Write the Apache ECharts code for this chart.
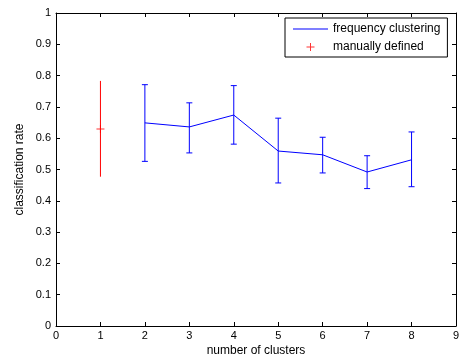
<!DOCTYPE html>
<html>
<head>
<meta charset="utf-8">
<script src="https://cdn.jsdelivr.net/npm/echarts@6/dist/echarts.min.js"></script>
<style>
  html, body { margin: 0; padding: 0; background: #fff; }
  #chart { width: 459px; height: 356px; }
</style>
</head>
<body>
<div id="chart"></div>
<script>
// frequency clustering: mean and error range per number of clusters
const freqX = [2, 3, 4, 5, 6, 7, 8];
const freqMean = [0.649, 0.636, 0.674, 0.559, 0.547, 0.492, 0.531];
const freqLow = [0.526, 0.553, 0.581, 0.457, 0.489, 0.439, 0.445];
const freqHigh = [0.771, 0.713, 0.768, 0.664, 0.603, 0.544, 0.620];

// manually defined: single point
const manualX = [1];
const manualMean = [0.629];
const manualLow = [0.477];
const manualHigh = [0.783];

const FONT = "Liberation Sans, Arial, sans-serif";
const PLUS = "path://M3.5,0H4.5V3.5H8V4.5H4.5V8H3.5V4.5H0V3.5H3.5Z";
// the leading moveTos keep the legend icons from being stretched
const LINE_ICON = "path://M0,0M35,8M0,3.5H35V4.5H0Z";
const PLUS_ICON = "path://M0,0M35,8M13.5,3.5H17V0H18V3.5H21.5V4.5H18V8H17V4.5H13.5Z";

const zip = (...cols) => cols[0].map((_, i) => cols.map(c => c[i]));

// vertical error bar with optional caps
function errorBar(capHalf) {
  return function (params, api) {
    const x = api.value(0);
    const lo = api.coord([x, api.value(1)]);
    const hi = api.coord([x, api.value(2)]);
    const style = { stroke: api.visual("color"), lineWidth: 1, fill: null };
    const kids = [{ type: "line", shape: { x1: hi[0], y1: hi[1], x2: lo[0], y2: lo[1] }, style }];
    if (capHalf) {
      kids.push({ type: "line", shape: { x1: hi[0] - capHalf, y1: hi[1], x2: hi[0] + capHalf, y2: hi[1] }, style });
      kids.push({ type: "line", shape: { x1: lo[0] - capHalf, y1: lo[1], x2: lo[0] + capHalf, y2: lo[1] }, style });
    }
    return { type: "group", children: kids };
  };
}

const axisLine = { show: true, onZero: false, lineStyle: { color: "#000", width: 1 } };
const tick = { show: true, inside: true, length: 4, lineStyle: { color: "#000" } };
const label = { color: "#000", fontFamily: FONT, fontSize: 11 };
const nameStyle = { color: "#000", fontFamily: FONT, fontSize: 12 };

const chart = echarts.init(document.getElementById("chart"));
chart.setOption({
  animation: false,
  backgroundColor: "#fff",
  grid: { left: 56, right: 3, top: 13, bottom: 30, outerBoundsMode: "none", containLabel: false },
  legend: {
    left: 285,
    top: 18,
    orient: "vertical",
    backgroundColor: "#fff",
    borderColor: "#000",
    borderWidth: 1,
    borderRadius: 0,
    padding: [5, 7, 4, 8],
    itemWidth: 35,
    itemHeight: 8,
    itemGap: 6,
    textStyle: { color: "#000", fontFamily: FONT, fontSize: 12 },
    data: [
      { name: "frequency clustering", icon: LINE_ICON },
      { name: "manually defined", icon: PLUS_ICON }
    ]
  },
  xAxis: [
    {
      type: "value", min: 0, max: 9, interval: 1,
      name: "number of clusters", nameLocation: "middle", nameGap: 19, nameMoveOverlap: false,
      nameTextStyle: nameStyle,
      axisLine, axisTick: tick, axisLabel: { ...label, margin: 4 },
      splitLine: { show: false }
    },
    {
      type: "value", min: 0, max: 9, interval: 1, position: "top",
      axisLine, axisTick: tick, axisLabel: { show: false }, splitLine: { show: false }
    }
  ],
  yAxis: [
    {
      type: "value", min: 0, max: 1, interval: 0.1,
      name: "classification rate", nameLocation: "middle", nameGap: 30, nameMoveOverlap: false,
      nameTextStyle: nameStyle,
      axisLine, axisTick: tick, axisLabel: { ...label, margin: 5 },
      splitLine: { show: false }
    },
    {
      type: "value", min: 0, max: 1, interval: 0.1, position: "right",
      axisLine, axisTick: tick, axisLabel: { show: false }, splitLine: { show: false }
    }
  ],
  series: [
    {
      name: "freq error",
      type: "custom",
      color: "#0000ff",
      renderItem: errorBar(3),
      encode: { x: 0, y: [1, 2] },
      data: zip(freqX, freqLow, freqHigh),
      z: 2
    },
    {
      name: "frequency clustering",
      type: "line",
      color: "#0000ff",
      symbol: "none",
      lineStyle: { width: 1, color: "#0000ff" },
      data: zip(freqX, freqMean),
      z: 3
    },
    {
      name: "manual error",
      type: "custom",
      color: "#ff0000",
      renderItem: errorBar(0),
      encode: { x: 0, y: [1, 2] },
      data: zip(manualX, manualLow, manualHigh),
      z: 2
    },
    {
      name: "manually defined",
      type: "scatter",
      color: "#ff0000",
      symbol: PLUS,
      symbolSize: 8,
      data: zip(manualX, manualMean),
      z: 3
    }
  ]
});
</script>
</body>
</html>
